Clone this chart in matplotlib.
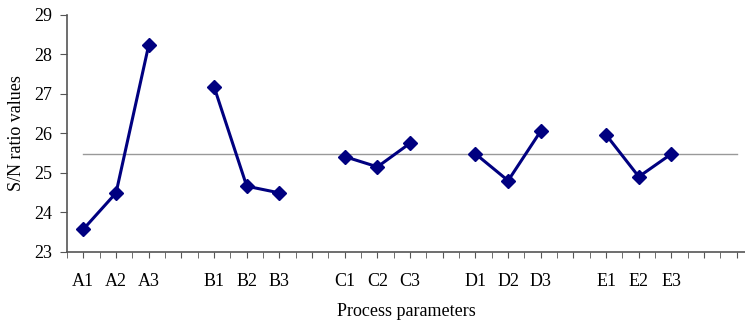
import matplotlib.pyplot as plt
from matplotlib.ticker import FixedLocator

plt.rcParams['font.family'] = ['Liberation Serif', 'DejaVu Serif']

labels = ["A1", "A2", "A3", "", "B1", "B2", "B3", "", "C1", "C2", "C3", "",
          "D1", "D2", "D3", "", "E1", "E2", "E3", "", ""]
groups = ["A", "B", "C", "D", "E"]
values = {
    "A": [23.57, 24.49, 28.24],
    "B": [27.18, 24.66, 24.49],
    "C": [25.41, 25.15, 25.75],
    "D": [25.48, 24.80, 26.06],
    "E": [25.96, 24.90, 25.48],
}
mean_sn = 25.47

fig = plt.figure(figsize=(7.45, 3.26), dpi=100)
ax = fig.add_axes([0.09, 0.228, 0.91, 0.726])

x = list(range(len(labels)))
ax.plot(x, [mean_sn] * len(x), color="#999999", lw=1.0, zorder=1)

for i, g in enumerate(groups):
    xs = [i * 4 + k for k in range(3)]
    ax.plot(xs, values[g], color="#000080", lw=2.2, marker="D", ms=7, zorder=3)

ax.set_xlim(-0.5, 20.25)
ax.set_ylim(23, 29)
ax.set_yticks(range(23, 30))
ax.set_xticks(x)
ax.set_xticklabels(labels)
ax.xaxis.set_minor_locator(FixedLocator([v + 0.5 for v in range(-1, 21)]))

for s in ["top", "right"]:
    ax.spines[s].set_visible(False)
for s in ["left", "bottom"]:
    ax.spines[s].set_color("#555555")
    ax.spines[s].set_linewidth(1.2)

ax.tick_params(axis="x", which="both", length=4, color="#555555", direction="out")
ax.tick_params(axis="x", which="major", pad=11, labelsize=13)
ax.tick_params(axis="y", length=5, color="#555555", labelsize=13, pad=6)

ax.set_ylabel("S/N ratio values", fontsize=13, labelpad=6)
ax.set_xlabel("Process parameters", fontsize=13, labelpad=10)

fig.savefig("out.png", dpi=100)
